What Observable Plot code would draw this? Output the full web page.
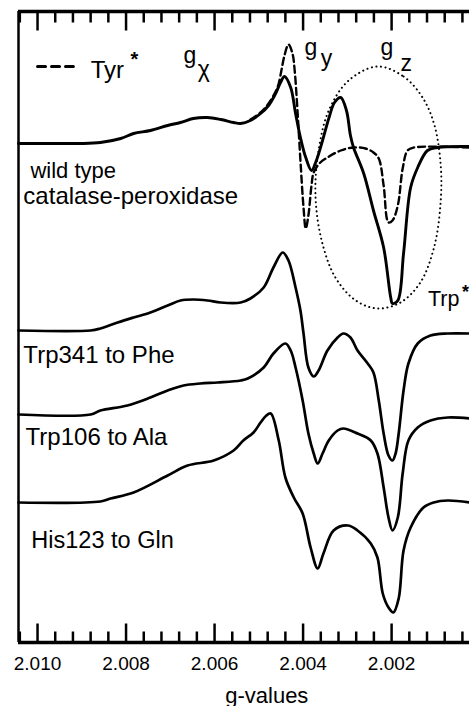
<!DOCTYPE html>
<html>
<head>
<meta charset="utf-8">
<script src="https://cdn.jsdelivr.net/npm/d3@7"></script>
<script src="https://cdn.jsdelivr.net/npm/@observablehq/plot@0.6"></script>
<style>
  html, body { margin: 0; padding: 0; background: #fff; overflow: hidden; }
</style>
</head>
<body>
<script>
// g-value ticks
const gMajor = [2.010, 2.008, 2.006, 2.004, 2.002];
const gMinor = [2.0104, 2.0096, 2.0092, 2.0088, 2.0084, 2.0076, 2.0072, 2.0068, 2.0064,
  2.0056, 2.0052, 2.0048, 2.0044, 2.0036, 2.0032, 2.0028, 2.0024, 2.0016, 2.0012, 2.0008, 2.0004];
const gDomain = [2.01043, 2.00024];
const iDomain = [0, 631];

// spectra: [g-value, intensity (arb. units, offset)]
const wildType = [[2.01043,499],[2.00993,499],[2.00948,499],[2.00903,499],[2.00858,500],[2.00812,504],[2.00783,509],[2.00745,512],[2.00706,517],[2.00677,520],[2.00648,524],[2.00616,525],[2.00586,523],[2.00557,520],[2.00541,519],[2.00519,522],[2.00496,529],[2.00478,537],[2.00462,549],[2.00451,560],[2.00442,566],[2.00428,555],[2.00417,529],[2.00406,505],[2.00394,485],[2.00381,472],[2.00370,482],[2.00356,502],[2.00342,524],[2.00329,540],[2.00315,545],[2.00302,532],[2.00293,507],[2.00286,495],[2.00263,469],[2.00241,432],[2.00218,395],[2.00202,345],[2.00198,339],[2.00186,342],[2.00173,389],[2.00157,455],[2.00141,475],[2.00119,492],[2.00096,495],[2.00024,496]];
const tyrRadical = [[2.00519,523],[2.00496,530],[2.00478,539],[2.00462,551],[2.00455,559],[2.00449,572],[2.00442,587],[2.00433,598],[2.00424,589],[2.00419,572],[2.00412,527],[2.00406,482],[2.00399,435],[2.00394,414],[2.00388,427],[2.00381,457],[2.00376,470],[2.00361,480],[2.00345,485],[2.00315,492],[2.00286,495],[2.00259,494],[2.00241,490],[2.00229,484],[2.00218,457],[2.00207,420],[2.00198,422],[2.00186,437],[2.00175,474],[2.00164,492],[2.00150,495],[2.00024,495]];
const trp341Phe = [[2.01043,312],[2.00880,312],[2.00858,314],[2.00819,320],[2.00783,325],[2.00745,330],[2.00706,337],[2.00677,342],[2.00648,343],[2.00616,342],[2.00586,340],[2.00541,340],[2.00519,344],[2.00489,355],[2.00467,375],[2.00446,390],[2.00433,382],[2.00417,355],[2.00406,332],[2.00399,309],[2.00388,275],[2.00376,266],[2.00365,272],[2.00345,292],[2.00322,305],[2.00309,309],[2.00293,305],[2.00277,292],[2.00254,279],[2.00241,270],[2.00229,242],[2.00218,209],[2.00207,187],[2.00198,182],[2.00191,189],[2.00184,209],[2.00173,252],[2.00162,279],[2.00141,299],[2.00112,307],[2.00073,309],[2.00024,309]];
const trp106Ala = [[2.01043,228],[2.00880,228],[2.00858,232],[2.00797,237],[2.00745,245],[2.00706,252],[2.00670,257],[2.00632,259],[2.00593,260],[2.00541,262],[2.00525,264],[2.00489,275],[2.00467,289],[2.00440,299],[2.00428,292],[2.00417,275],[2.00401,242],[2.00388,209],[2.00376,189],[2.00367,179],[2.00356,189],[2.00342,202],[2.00322,212],[2.00309,214],[2.00277,209],[2.00247,202],[2.00232,189],[2.00218,155],[2.00207,125],[2.00198,112],[2.00186,125],[2.00175,169],[2.00162,202],[2.00141,215],[2.00112,222],[2.00073,225],[2.00024,224]];
const his123Gln = [[2.01043,140],[2.00858,141],[2.00835,144],[2.00783,150],[2.00706,167],[2.00661,177],[2.00602,182],[2.00557,192],[2.00535,202],[2.00512,210],[2.00496,220],[2.00483,227],[2.00473,229],[2.00455,202],[2.00440,165],[2.00421,145],[2.00401,129],[2.00383,95],[2.00367,74],[2.00354,89],[2.00331,112],[2.00299,117],[2.00277,112],[2.00247,99],[2.00232,85],[2.00220,49],[2.00207,35],[2.00196,30],[2.00184,44],[2.00173,92],[2.00157,115],[2.00128,135],[2.00105,140],[2.00073,142],[2.00024,140]];

// dotted outline around the Trp* contribution
const trpOutline = [[2.00232,576],[2.00173,566],[2.00130,545],[2.00103,517],[2.00089,477],[2.00089,442],[2.00103,397],[2.00135,360],[2.00180,340],[2.00232,334],[2.00281,342],[2.00327,365],[2.00358,402],[2.00372,447],[2.00365,492],[2.00342,532],[2.00297,562]];

// legend sample for Tyr*
const legendDash = [[2.01000,576],[2.00919,576]];

// text labels: [text, g, intensity, size]
const labels = [
  ["wild type", 2.01016, 465, 22],
  ["catalase-peroxidase", 2.01032, 439, 24],
  ["Trp341 to Phe", 2.01032, 280, 24],
  ["Trp106 to Ala", 2.01027, 198, 24],
  ["His123 to Gln", 2.01014, 95, 23.5],
  ["Tyr", 2.00880, 565, 24],
  ["Trp", 2.00118, 337, 21.5]
];
const gLabels = [
  ["g", 2.00670, 580], ["χ", 2.00638, 566],
  ["g", 2.00397, 588], ["y", 2.00360, 577],
  ["g", 2.00225, 588], ["z", 2.00180, 572]
];
const stars = [["*", 2.00790, 577, 20], ["*", 2.00041, 345, 18]];

// frame and tick lengths (intensity units)
const majorLen = 19, minorLen = 11;
const topI = iDomain[1];
const tickSegs = [
  ...gMajor.map(g => ({g, a: 0, b: majorLen})),
  ...gMinor.map(g => ({g, a: 0, b: minorLen})),
  ...gMajor.map(g => ({g, a: topI, b: topI - majorLen})),
  ...gMinor.map(g => ({g, a: topI, b: topI - minorLen}))
];

const spectrum = (data, extra = {}) => Plot.line(data, {
  x: d => d[0], y: d => d[1], curve: "catmull-rom",
  stroke: "black", strokeWidth: 2.7, strokeLinejoin: "round", ...extra
});

const plot = Plot.plot({
  width: 469,
  height: 706,
  marginLeft: 18,
  marginRight: 0,
  marginTop: 11,
  marginBottom: 64,
  style: {fontFamily: "'Liberation Sans', Arial, sans-serif", fontSize: "19px", background: "white", color: "black"},
  x: {domain: gDomain, ticks: gMajor, tickFormat: d3.format(".3f"), tickSize: 0, tickPadding: 14, label: null},
  y: {domain: iDomain, axis: null},
  marks: [
    spectrum(his123Gln),
    spectrum(trp106Ala),
    spectrum(trp341Phe),
    spectrum(wildType, {strokeWidth: 2.9}),
    spectrum(tyrRadical, {strokeDasharray: "7,4", strokeWidth: 2.4}),
    Plot.line(trpOutline, {x: d => d[0], y: d => d[1], curve: "catmull-rom-closed",
      stroke: "black", strokeWidth: 2, strokeDasharray: "0.1,4.5", strokeLinecap: "round"}),
    Plot.line(legendDash, {x: d => d[0], y: d => d[1], stroke: "black", strokeWidth: 3, strokeDasharray: "8,6"}),
    ...labels.map(l => Plot.text([l], {x: d => d[1], y: d => d[2], text: d => d[0],
      textAnchor: "start", lineAnchor: "bottom", fontSize: l[3], fill: "black"})),
    Plot.text(gLabels, {x: d => d[1], y: d => d[2], text: d => d[0],
      textAnchor: "start", lineAnchor: "bottom", fontSize: 23, fill: "black"}),
    ...stars.map(s => Plot.text([s], {x: d => d[1], y: d => d[2], text: d => d[0],
      textAnchor: "start", lineAnchor: "bottom", fontSize: s[3], fontWeight: "bold", fill: "black"})),
    Plot.text(["g-values"], {x: [2.00482], frameAnchor: "bottom", dy: 60, text: d => d,
      textAnchor: "middle", lineAnchor: "bottom", fontSize: 22, fill: "black"}),
    // frame and tick marks on top
    Plot.ruleY([0, topI], {y: d => d, stroke: "currentColor", strokeWidth: 3.5}),
    Plot.ruleX([gDomain[0]], {x: d => d, stroke: "currentColor", strokeWidth: 2.5}),
    Plot.link(tickSegs, {x1: d => d.g, x2: d => d.g, y1: d => d.a, y2: d => d.b, stroke: "currentColor", strokeWidth: 2.5})
  ]
});
document.body.appendChild(plot);
</script>
</body>
</html>
